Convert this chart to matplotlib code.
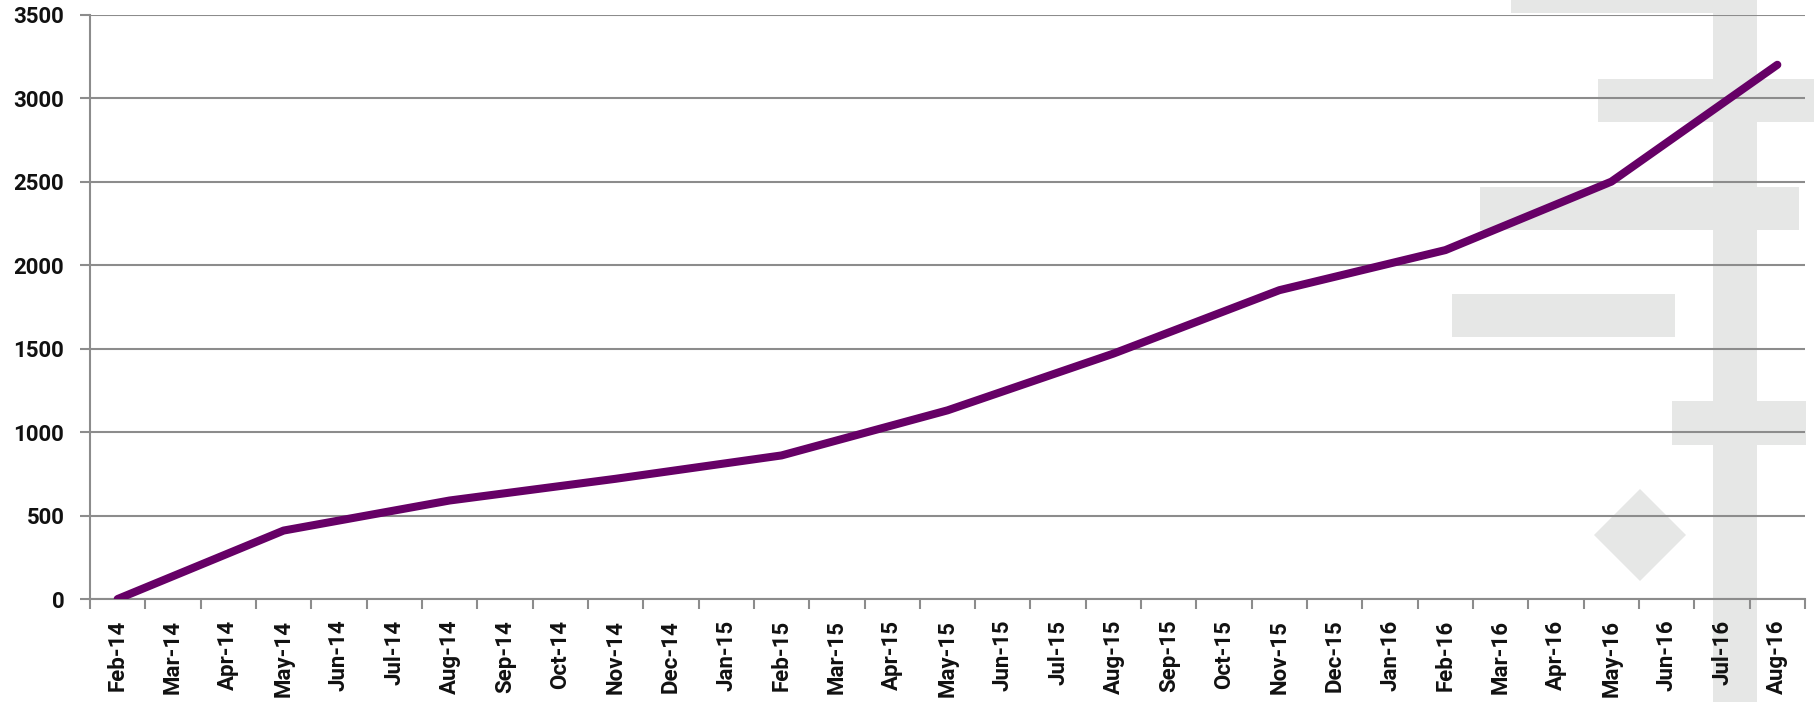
import matplotlib.pyplot as plt
from matplotlib.patches import Rectangle, Polygon

# 月份标签
months = ['Feb-14', 'Mar-14', 'Apr-14', 'May-14', 'Jun-14', 'Jul-14', 'Aug-14', 'Sep-14',
          'Oct-14', 'Nov-14', 'Dec-14', 'Jan-15', 'Feb-15', 'Mar-15', 'Apr-15', 'May-15',
          'Jun-15', 'Jul-15', 'Aug-15', 'Sep-15', 'Oct-15', 'Nov-15', 'Dec-15', 'Jan-16',
          'Feb-16', 'Mar-16', 'Apr-16', 'May-16', 'Jun-16', 'Jul-16', 'Aug-16']

# 季度数据
obs_months = ['Feb-14', 'May-14', 'Aug-14', 'Nov-14', 'Feb-15', 'May-15',
              'Aug-15', 'Nov-15', 'Feb-16', 'May-16', 'Aug-16']
obs_values = [0, 410, 590, 720, 860, 1130, 1470, 1850, 2090, 2500, 3200]

y_ticks = [0, 500, 1000, 1500, 2000, 2500, 3000, 3500]

W, H = 1814, 702
fig = plt.figure(figsize=(W / 100, H / 100), dpi=100)
ax = fig.add_axes([90 / W, 1 - 599 / H, (1805 - 90) / W, (599 - 14.7) / H])
ax.set_facecolor('none')

# 背景水印 (像素坐标)
wm = '#e6e7e6'
rects = [(1511, 0, 1757, 13), (1713, 0, 1757, 702), (1598, 79, 1814, 122),
         (1480, 187, 1799, 230), (1452, 294, 1675, 337), (1672, 401, 1806, 445)]
for x0, y0, x1, y1 in rects:
    fig.patches.append(Rectangle((x0 / W, 1 - y1 / H), (x1 - x0) / W, (y1 - y0) / H,
                                 transform=fig.transFigure, color=wm, zorder=-5, lw=0))
cx, cy, r = 1640, 535, 46
fig.patches.append(Polygon([((cx - r) / W, 1 - cy / H), (cx / W, 1 - (cy - r) / H),
                            ((cx + r) / W, 1 - cy / H), (cx / W, 1 - (cy + r) / H)],
                           closed=True, transform=fig.transFigure, color=wm, zorder=-5, lw=0))

x = [months.index(m) for m in obs_months]
ax.plot(x, obs_values, color='#660066', lw=5.8, solid_capstyle='round',
        solid_joinstyle='round', zorder=5)

grey = '#8c8c8c'
font = dict(fontsize=16, family='Roboto', weight='bold', color='#111111')
ax.set_ylim(0, 3500)
ax.set_xlim(-0.5, len(months) - 0.5)
ax.set_yticks(y_ticks)
ax.set_yticklabels([str(v) for v in y_ticks], **font)
ax.set_xticks(range(len(months)))
ax.set_xticklabels(months, rotation=90, **font)
ax.set_xticks([i - 0.5 for i in range(len(months) + 1)], minor=True)
ax.tick_params(axis='x', which='major', length=0, pad=15)
ax.tick_params(axis='x', which='minor', length=7.5, width=1.5, color=grey)
ax.tick_params(axis='y', length=7.5, width=1.5, color=grey, pad=11)

ax.grid(axis='y', color=grey, lw=1.5)
ax.set_axisbelow(True)
for s in ['top', 'right']:
    ax.spines[s].set_visible(False)
for s in ['left', 'bottom']:
    ax.spines[s].set_color(grey)
    ax.spines[s].set_linewidth(1.5)

plt.savefig('out.png', dpi=100)
